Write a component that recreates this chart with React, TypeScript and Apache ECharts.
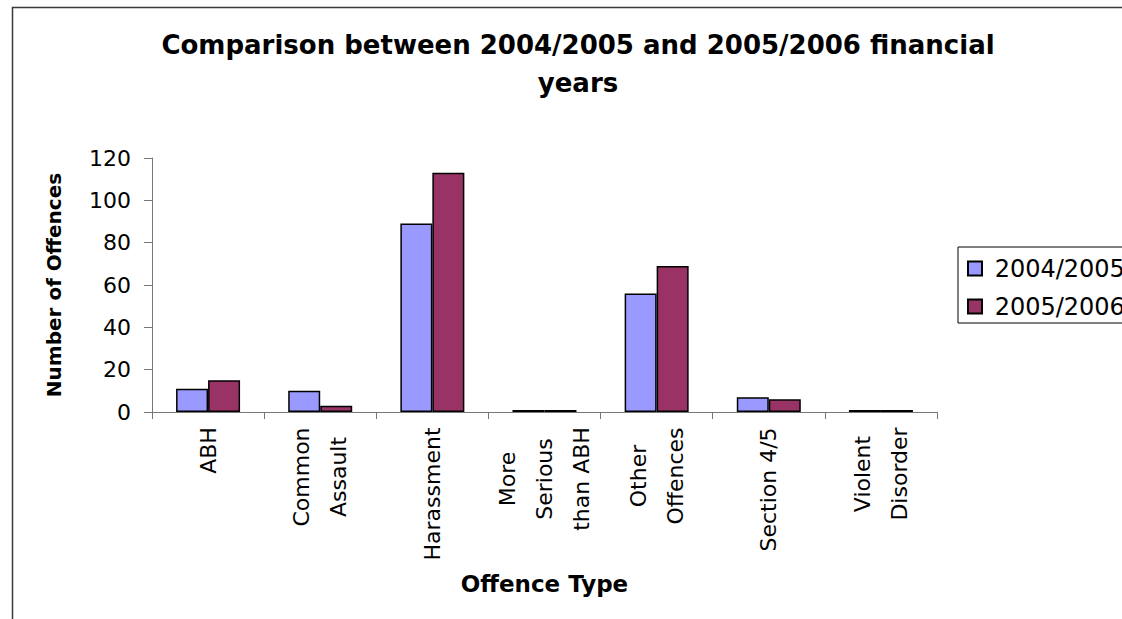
import React, { useEffect, useRef } from "react";
import * as echarts from "echarts";

const categories = [
  "ABH",
  "Common\nAssault",
  "Harassment",
  "More\nSerious\nthan ABH",
  "Other\nOffences",
  "Section 4/5",
  "Violent\nDisorder",
];
const seriesNames = ["2004/2005", "2005/2006"];
const values2004 = [11, 10, 89, 1, 56, 7, 1];
const values2005 = [15, 3, 113, 1, 69, 6, 1];
const yTicks = { min: 0, max: 120, interval: 20 };

const FONT = "DejaVu Sans";
const LABEL_SIZE = 22;
const COLORS = ["#9999FF", "#993366"];

// Width of the longest line of each category label, so that the shorter
// lines can be centred inside the block.
function labelBlockWidths(): number[] {
  const ctx = document.createElement("canvas").getContext("2d");
  return categories.map((c) => {
    const lines = c.split("\n");
    if (!ctx) return Math.max(...lines.map((l) => l.length * LABEL_SIZE * 0.6));
    ctx.font = `${LABEL_SIZE}px "${FONT}"`;
    return Math.ceil(Math.max(...lines.map((l) => ctx.measureText(l).width)));
  });
}

export default function App() {
  const ref = useRef<HTMLDivElement>(null);

  useEffect(() => {
    if (!ref.current) return;
    const chart = echarts.init(ref.current, null, { renderer: "svg" });
    const widths = labelBlockWidths();
    const rich: Record<string, any> = {};
    widths.forEach((w, i) => {
      rich["c" + i] = {
        width: w,
        align: "center",
        fontFamily: FONT,
        fontSize: LABEL_SIZE,
        lineHeight: 37,
        color: "#000",
      };
    });

    chart.setOption({
      animation: false,
      backgroundColor: "#ffffff",
      textStyle: { fontFamily: FONT, color: "#000" },
      graphic: [
        {
          type: "rect",
          shape: { x: 12.5, y: 7.5, width: 1300, height: 800 },
          style: { fill: "none", stroke: "#3a3a3a", lineWidth: 1.5 },
          silent: true,
        },
        {
          type: "text",
          x: 578,
          y: 26,
          style: {
            text: "Comparison between 2004/2005 and 2005/2006 financial\nyears",
            textAlign: "center",
            textVerticalAlign: "top",
            fontFamily: FONT,
            fontSize: 26,
            fontWeight: "bold",
            lineHeight: 38,
            fill: "#000",
          },
        },
      ],
      legend: {
        orient: "vertical",
        left: 958,
        top: 247,
        padding: [9.5, 40, 4.5, 9],
        itemWidth: 14,
        itemHeight: 14,
        itemGap: 14,
        borderColor: "#000",
        borderWidth: 1,
        icon: "rect",
        formatter: (name: string) => " " + name,
        textStyle: { fontFamily: FONT, fontSize: 24, lineHeight: 24, color: "#000" },
        data: seriesNames,
      },
      grid: { left: 152, right: 185, top: 158, bottom: 207, containLabel: false },
      xAxis: {
        type: "category",
        data: categories,
        name: "Offence Type",
        nameLocation: "middle",
        nameGap: 160,
        nameTextStyle: { fontFamily: FONT, fontSize: 23, fontWeight: "bold", color: "#000" },
        axisLine: { lineStyle: { color: "#777", width: 1 } },
        axisTick: { show: true, length: 7, lineStyle: { color: "#777" } },
        axisLabel: {
          interval: 0,
          rotate: 90,
          margin: 15,
          formatter: (v: string, idx: number) =>
            v
              .split("\n")
              .map((l) => `{c${idx}|${l}}`)
              .join("\n"),
          rich,
        },
      },
      yAxis: {
        type: "value",
        min: yTicks.min,
        max: yTicks.max,
        interval: yTicks.interval,
        name: "Number of Offences",
        nameLocation: "middle",
        nameGap: 88,
        nameTextStyle: { fontFamily: FONT, fontSize: 20, fontWeight: "bold", color: "#000" },
        axisLine: { show: true, lineStyle: { color: "#777", width: 1 } },
        axisTick: { show: true, length: 8, lineStyle: { color: "#777" } },
        splitLine: { show: false },
        axisLabel: { margin: 21, fontFamily: FONT, fontSize: 22, color: "#000" },
      },
      series: [
        {
          name: seriesNames[0],
          type: "bar",
          data: values2004,
          barWidth: 32,
          barGap: "0%",
          itemStyle: { color: COLORS[0], borderColor: "#000", borderWidth: 1.5 },
        },
        {
          name: seriesNames[1],
          type: "bar",
          data: values2005,
          barWidth: 32,
          barGap: "0%",
          itemStyle: { color: COLORS[1], borderColor: "#000", borderWidth: 1.5 },
        },
      ],
    });
    return () => chart.dispose();
  }, []);

  return (
    <div
      ref={ref}
      style={{ position: "absolute", left: 0, top: 0, width: 1122, height: 619 }}
    />
  );
}
